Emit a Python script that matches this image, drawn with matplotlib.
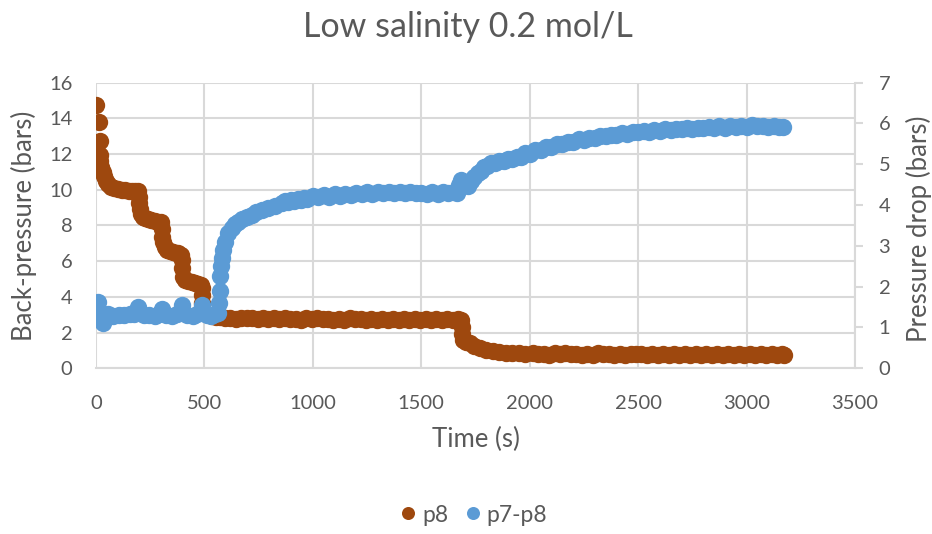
import matplotlib.pyplot as plt

# p8 back-pressure (left axis, bars)
t_p8 = [0, 14, 17, 18, 20, 24, 30, 37, 45, 55, 68, 82, 100, 118, 135, 150, 165, 180,
        193, 196, 198, 202, 206, 215, 228, 241, 255, 270, 285, 300, 303, 305, 310,
        318, 328, 340, 355, 368, 379, 390, 395, 397, 399, 410, 425, 441, 455, 470,
        482, 487, 489, 491, 535, 552,
        570, 595, 620, 645, 670, 695, 720, 745, 770, 795, 820, 845,
        870, 895, 920, 945, 970, 995, 1020, 1045, 1070, 1095, 1120, 1145,
        1170, 1195, 1220, 1245, 1270, 1295, 1320, 1345, 1370, 1395, 1420, 1445,
        1470, 1495, 1520, 1545, 1570, 1595, 1620, 1645, 1670, 1685,
        1688, 1690, 1692, 1705, 1724, 1745, 1770, 1800, 1830, 1860, 1890, 1920,
        1950, 1980,
        2015, 2040, 2065, 2090, 2115, 2140, 2165, 2190, 2215, 2240, 2265, 2290,
        2315, 2340, 2365, 2390, 2415, 2440, 2465, 2490, 2515, 2540, 2565, 2590,
        2615, 2640, 2665, 2690, 2715, 2740, 2765, 2790, 2815, 2840, 2865, 2890,
        2915, 2940, 2965, 2990, 3015, 3040, 3065, 3090, 3115, 3140, 3165, 3172]
p8 = [14.75, 13.8, 12.75, 11.95, 11.6, 11.3, 11.0, 10.75, 10.5, 10.3, 10.17, 10.08,
      10.02, 9.99, 9.97, 9.95, 9.95, 9.95, 9.95, 9.6, 9.24, 8.9, 8.65, 8.5, 8.42,
      8.38, 8.3, 8.25, 8.22, 8.2, 7.8, 7.37, 7.1, 6.8, 6.65, 6.55, 6.5, 6.47, 6.44,
      6.35, 6.07, 5.6, 5.13, 4.95, 4.9, 4.85, 4.8, 4.75, 4.65, 4.5, 4.1, 3.64,
      2.95, 2.9,
      2.86, 2.80, 2.83, 2.78, 2.84, 2.79, 2.83, 2.78, 2.80, 2.75, 2.81, 2.76,
      2.82, 2.77, 2.78, 2.73, 2.79, 2.74, 2.80, 2.75, 2.77, 2.72, 2.78, 2.73,
      2.79, 2.74, 2.75, 2.70, 2.76, 2.71, 2.78, 2.73, 2.75, 2.70, 2.76, 2.71,
      2.78, 2.73, 2.75, 2.70, 2.76, 2.71, 2.78, 2.73, 2.75, 2.72,
      2.3, 1.9, 1.6, 1.5, 1.4, 1.25, 1.12, 1.03, 0.96, 0.92, 0.88, 0.85,
      0.83, 0.8,
      0.84, 0.79, 0.81, 0.77, 0.83, 0.78, 0.83, 0.79, 0.80, 0.76, 0.82, 0.77,
      0.83, 0.78, 0.80, 0.76, 0.82, 0.77, 0.82, 0.78, 0.79, 0.75, 0.81, 0.76,
      0.82, 0.77, 0.79, 0.75, 0.81, 0.76, 0.81, 0.77, 0.78, 0.74, 0.80, 0.75,
      0.81, 0.76, 0.78, 0.74, 0.80, 0.75, 0.80, 0.76, 0.78, 0.75, 0.78, 0.76]

# p7-p8 pressure drop (right axis, bars)
t_dp = [0, 5, 11, 16, 22, 34, 40, 55, 80, 105, 130, 155, 175, 195, 220, 245, 270,
        290, 303, 325, 350, 375, 395, 420, 445, 465, 487, 510, 530, 550, 564,
        568, 570, 572, 575, 580, 587, 597, 610, 625, 640, 656, 675, 695, 718, 740,
        765, 794, 825, 856, 870, 885, 900, 915, 930, 945, 960, 975,
        1000, 1025, 1050, 1075, 1100, 1125, 1150, 1175, 1200, 1225, 1250, 1275,
        1300, 1325, 1350, 1375, 1400, 1425, 1450, 1475, 1500, 1525, 1550, 1575,
        1600, 1625, 1650, 1665,
        1675, 1685, 1700, 1715, 1730, 1745, 1760, 1775, 1790, 1805, 1820, 1840,
        1860, 1880, 1900, 1920, 1940, 1960, 1980, 2000, 2025, 2050, 2075, 2100,
        2125, 2150, 2175, 2200, 2225, 2250, 2275, 2300, 2325, 2350, 2375, 2400,
        2425, 2450, 2475, 2500, 2525, 2550, 2575, 2600, 2625, 2650, 2675, 2700,
        2725, 2750, 2775, 2800, 2825, 2850, 2875, 2900, 2925, 2950, 2975, 3000,
        3025, 3050, 3075, 3100, 3125, 3150, 3169]
dp = [1.31, 1.45, 1.63, 1.4, 1.2, 1.1, 1.25, 1.32, 1.29, 1.31, 1.3, 1.32, 1.34,
      1.51, 1.3, 1.31, 1.29, 1.33, 1.46, 1.31, 1.29, 1.32, 1.55, 1.31, 1.29, 1.32,
      1.55, 1.31, 1.29, 1.32, 1.35,
      1.6, 1.9, 2.25, 2.5, 2.7, 2.9, 3.1, 3.31, 3.45, 3.53, 3.59, 3.66, 3.7, 3.76,
      3.82, 3.87, 3.92, 3.98, 4.05, 4.09, 4.07, 4.12, 4.10, 4.15, 4.13, 4.18, 4.16,
      4.23, 4.20, 4.24, 4.21, 4.26, 4.23, 4.28, 4.25, 4.29, 4.26, 4.31, 4.28,
      4.33, 4.30, 4.33, 4.30, 4.33, 4.30, 4.33, 4.30, 4.30, 4.27, 4.31, 4.28,
      4.33, 4.30, 4.32, 4.29,
      4.5, 4.62, 4.5, 4.48, 4.6, 4.68, 4.78, 4.84, 4.94, 4.96, 5.02, 5.02,
      5.08, 5.07, 5.14, 5.13, 5.19, 5.19, 5.27, 5.25, 5.34, 5.34, 5.42, 5.42,
      5.5, 5.49, 5.55, 5.55, 5.61, 5.6, 5.65, 5.64, 5.69, 5.69, 5.73, 5.72,
      5.77, 5.75, 5.8, 5.78, 5.82, 5.8, 5.84, 5.82, 5.86, 5.84, 5.87, 5.86,
      5.89, 5.87, 5.9, 5.88, 5.91, 5.89, 5.93, 5.9, 5.94, 5.91, 5.95, 5.92,
      5.97, 5.93, 5.95, 5.92, 5.94, 5.91, 5.92]

brown = '#9E480E'
blue = '#5B9BD5'
grey = '#595959'
gridc = '#D9D9D9'

plt.rcParams['font.family'] = ['Lato', 'DejaVu Sans']

fig = plt.figure(figsize=(9.32, 5.34), dpi=100)
ax = fig.add_axes([96 / 932, 1 - 368.3 / 534, 759 / 932, 285.6 / 534])
ax2 = ax.twinx()

ax.plot(t_p8, p8, 'o', color=brown, markersize=12.5, markeredgewidth=0, label='p8')
ax2.plot(t_dp, dp, 'o', color=blue, markersize=12.5, markeredgewidth=0, label='p7-p8')

ax.set_xlim(0, 3500)
ax.set_ylim(0, 16)
ax2.set_ylim(0, 7)
ax.set_xticks(range(0, 3501, 500))
ax.set_yticks(range(0, 17, 2))
ax2.set_yticks(range(0, 8))

ax.grid(True, color=gridc, linewidth=1.5)
ax.set_axisbelow(True)
for a in (ax, ax2):
    for s in a.spines.values():
        s.set_visible(False)
ax2.spines['right'].set_visible(True)
ax2.spines['right'].set_color(gridc)
ax2.spines['right'].set_linewidth(1.5)
ax.spines['bottom'].set_visible(True)
ax.spines['bottom'].set_color(gridc)
ax.spines['bottom'].set_linewidth(1.5)

ax.tick_params(axis='both', length=0, labelsize=14.5, labelcolor=grey)
ax.tick_params(axis='y', pad=17)
ax.tick_params(axis='x', pad=19)
ax2.tick_params(axis='y', length=6, width=1.5, color=gridc, direction='out',
                labelsize=14.5, labelcolor=grey, pad=11)

ax.set_xlabel('Time (s)', fontsize=18.5, color=grey, va='center')
ax.xaxis.set_label_coords(0.5, (368.3 - 439) / 285.6)
ax.set_ylabel('Back-pressure (bars)', fontsize=18.5, color=grey, va='center')
ax.yaxis.set_label_coords((24 - 96) / 759, 0.5)
ax2.set_ylabel('Pressure drop (bars)', fontsize=18.5, color=grey, va='center')
ax2.yaxis.set_label_coords((919 - 96) / 759, 0.49)

fig.text(468 / 932, 1 - 37.3 / 534, 'Low salinity 0.2 mol/L', fontsize=24.5,
         color=grey, ha='center', va='baseline')

h1, l1 = ax.get_legend_handles_labels()
h2, l2 = ax2.get_legend_handles_labels()
fig.legend(h1 + h2, l1 + l2, loc='center', bbox_to_anchor=(472 / 932, 1 - 515 / 534),
           ncol=2, frameon=False, fontsize=16.5, labelcolor=grey, handletextpad=0.1,
           columnspacing=0.57, markerscale=0.75, handlelength=1.0)

plt.savefig('out.png', dpi=100)
